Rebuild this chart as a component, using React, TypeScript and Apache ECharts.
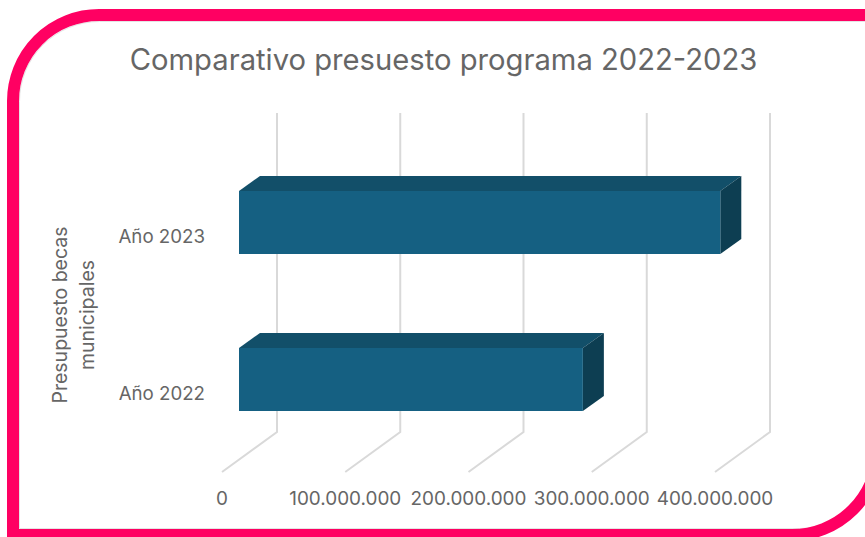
import React, { useEffect, useRef } from "react";
import * as echarts from "echarts";

const categories = ["Año 2022", "Año 2023"];
const budgetValues = [279000000, 390500000];
const tickValues = [0, 100000000, 200000000, 300000000, 400000000];
const titleText = "Comparativo presuesto programa 2022-2023";
const axisName = "Presupuesto becas\nmunicipales";

const FONT = "Inter";
const TEXT = "#666666";

const formatThousands = (v: number) => String(v).replace(/\B(?=(\d{3})+(?!\d))/g, ".");

export default function App() {
  const ref = useRef<HTMLDivElement>(null);
  useEffect(() => {
    document.body.style.margin = "0";
    const chart = echarts.init(ref.current!, undefined, { renderer: "svg" });
    chart.setOption({
      animation: false,
      backgroundColor: "#ffffff",
      title: {
        text: titleText,
        left: 438.5,
        top: 40,
        textAlign: "center",
        textStyle: { fontFamily: FONT, fontSize: 29.2, fontWeight: 400, color: TEXT },
      },
      grid: { left: 222, right: 150, top: 158, bottom: 65, containLabel: false },
      xAxis: {
        type: "value",
        min: 0,
        max: 400000000,
        interval: 100000000,
        axisLine: { show: false },
        axisTick: { show: false },
        splitLine: { show: false },
        axisLabel: {
          margin: 17,
          hideOverlap: false,
          fontFamily: FONT,
          fontSize: 18.9,
          color: TEXT,
          formatter: (v: number) => formatThousands(v),
        },
      },
      yAxis: {
        type: "category",
        data: categories,
        axisLine: { show: false },
        axisTick: { show: false },
        splitLine: { show: false },
        axisLabel: { margin: 17, fontFamily: FONT, fontSize: 18.7, color: TEXT },
        name: axisName,
        nameLocation: "middle",
        nameRotate: 90,
        nameGap: 122,
        nameTextStyle: { fontFamily: FONT, fontSize: 19.5, color: TEXT, lineHeight: 27 },
      },
      series: [
        {
          type: "custom",
          silent: true,
          z: 1,
          data: tickValues.map((v) => [v, 0]),
          encode: { x: 0, y: 1 },
          renderItem: (params: any, api: any) => {
            const x = api.coord([api.value(0), 0])[0];
            const floor = params.coordSys.y + params.coordSys.height;
            return {
              type: "polyline",
              shape: {
                points: [
                  [x, floor],
                  [x + 55, floor - 40],
                  [x + 55, floor - 359],
                ],
              },
              style: { fill: "none", stroke: "#d9d9d9", lineWidth: 2 },
            };
          },
        },
        {
          type: "custom",
          silent: true,
          z: 2,
          data: budgetValues.map((v, i) => [v, i]),
          encode: { x: 0, y: 1 },
          renderItem: (_params: any, api: any) => {
            const end = api.coord([api.value(0), api.value(1)]);
            const start = api.coord([0, api.value(1)]);
            const dx = 17;
            const dy = -14;
            const half = 31.5;
            const dX = 21;
            const dY = -15;
            const x0 = start[0] + dx;
            const x1 = end[0] + dx;
            const y0 = end[1] + dy - half;
            const y1 = end[1] + dy + half;
            return {
              type: "group",
              children: [
                {
                  type: "polygon",
                  shape: { points: [[x0, y0], [x1, y0], [x1 + dX, y0 + dY], [x0 + dX, y0 + dY]] },
                  style: { fill: "#124f69" },
                },
                {
                  type: "polygon",
                  shape: { points: [[x1, y0], [x1 + dX, y0 + dY], [x1 + dX, y1 + dY], [x1, y1]] },
                  style: { fill: "#0d3e52" },
                },
                {
                  type: "rect",
                  shape: { x: x0, y: y0, width: x1 - x0, height: y1 - y0 },
                  style: { fill: "#156082" },
                },
              ],
            };
          },
        },
      ],
      graphic: [
        {
          type: "rect",
          z: 100,
          silent: true,
          shape: { x: 19.5, y: 21.5, width: 860, height: 507, r: [80, 0, 80, 0] },
          style: { fill: "none", stroke: "#e4e4e4", lineWidth: 1 },
        },
        {
          type: "rect",
          z: 101,
          silent: true,
          shape: { x: 13, y: 15, width: 865, height: 520, r: [86, 0, 86, 0] },
          style: { fill: "none", stroke: "#ff0062", lineWidth: 12 },
        },
      ],
    });
    return () => chart.dispose();
  }, []);
  return <div ref={ref} style={{ width: 865, height: 537 }} />;
}
